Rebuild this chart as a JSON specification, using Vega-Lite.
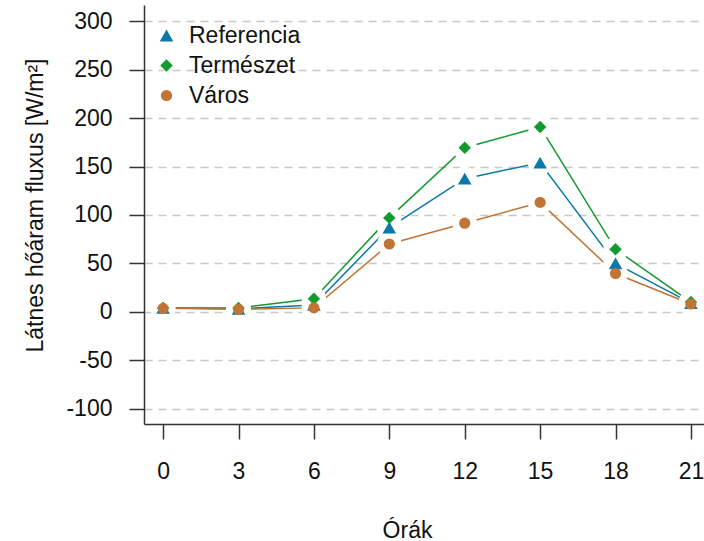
{
  "$schema": "https://vega.github.io/schema/vega-lite/v6.json",
  "width": 560,
  "height": 419,
  "padding": {"left": 144, "top": 5, "right": 0, "bottom": 117},
  "autosize": {"type": "none"},
  "background": "white",
  "config": {
    "view": {"stroke": null},
    "font": "Liberation Sans",
    "axis": {"labelFont": "Liberation Sans", "titleFont": "Liberation Sans", "labelColor": "#111", "titleColor": "#111", "titleFontWeight": "normal"},
    "legend": {"labelFont": "Liberation Sans"}
  },
  "data": {
    "values": [
      {"h": 0, "s": "Referencia", "v": 4},
      {"h": 3, "s": "Referencia", "v": 3},
      {"h": 6, "s": "Referencia", "v": 7},
      {"h": 9, "s": "Referencia", "v": 87},
      {"h": 12, "s": "Referencia", "v": 137.5},
      {"h": 15, "s": "Referencia", "v": 154},
      {"h": 18, "s": "Referencia", "v": 50},
      {"h": 21, "s": "Referencia", "v": 9},
      {"h": 0, "s": "Természet", "v": 4},
      {"h": 3, "s": "Természet", "v": 4},
      {"h": 6, "s": "Természet", "v": 13.5},
      {"h": 9, "s": "Természet", "v": 97},
      {"h": 12, "s": "Természet", "v": 169.5},
      {"h": 15, "s": "Természet", "v": 191},
      {"h": 18, "s": "Természet", "v": 64.5},
      {"h": 21, "s": "Természet", "v": 10},
      {"h": 0, "s": "Város", "v": 3.5},
      {"h": 3, "s": "Város", "v": 2.5},
      {"h": 6, "s": "Város", "v": 4},
      {"h": 9, "s": "Város", "v": 70},
      {"h": 12, "s": "Város", "v": 91.5},
      {"h": 15, "s": "Város", "v": 113},
      {"h": 18, "s": "Város", "v": 39.5},
      {"h": 21, "s": "Város", "v": 8}
    ]
  },
  "encoding": {
    "x": {
      "field": "h", "type": "quantitative",
      "scale": {"domain": [-0.76, 21.52], "nice": false, "zero": false},
      "axis": {
        "values": [0, 3, 6, 9, 12, 15, 18, 21],
        "title": "Órák", "titleFontSize": 23, "titlePadding": 36, "titleX": 263,
        "labelFontSize": 23, "labelPadding": 21, "tickSize": 15, "tickColor": "#333", "domainColor": "#333", "domainWidth": 1.5, "tickWidth": 1.5,
        "grid": false, "labelFlush": false
      }
    },
    "y": {
      "field": "v", "type": "quantitative",
      "scale": {"domain": [-116, 317], "nice": false, "zero": false},
      "axis": {
        "values": [-100, -50, 0, 50, 100, 150, 200, 250, 300],
        "labelExpr": "datum.value + ''",
        "title": "Látnes hőáram fluxus [W/m²]", "titleFontSize": 23, "titleX": -97, "titleY": 200,
        "labelFontSize": 23, "labelPadding": 17, "tickSize": 15, "tickColor": "#333", "domainColor": "#333", "domainWidth": 1.5, "tickWidth": 1.5,
        "grid": true, "gridDash": [8, 6], "gridColor": "#c8c8c8", "gridWidth": 1.5, "labelFlush": false
      }
    },
    "color": {
      "field": "s", "type": "nominal",
      "scale": {"domain": ["Referencia", "Természet", "Város"], "range": ["#0a78a8", "#119a2e", "#c07535"]},
      "legend": {
        "title": null, "orient": "none", "legendX": 11, "legendY": 19,
        "labelFontSize": 23, "labelColor": "#111", "rowPadding": 6, "labelOffset": 11,
        "symbolOpacity": 1, "symbolStrokeWidth": 0, "symbolType": "circle"
      }
    },
    "shape": {"field": "s", "type": "nominal", "scale": {"domain": ["Referencia", "Természet", "Város"], "range": ["triangle-up", "diamond", "circle"]}},
    "size": {"field": "s", "type": "nominal", "scale": {"domain": ["Referencia", "Természet", "Város"], "range": [185, 125, 180]}}
  },
  "layer": [
    {"mark": {"type": "line", "strokeWidth": 1.5, "clip": true}, "encoding": {"shape": null, "size": null}},
    {"mark": {"type": "point", "filled": true, "opacity": 1, "color": "white", "shape": "circle", "size": 600, "clip": true}, "encoding": {"shape": null, "size": null, "color": null}},
    {"mark": {"type": "point", "filled": true, "opacity": 1, "clip": true}}
  ]
}
